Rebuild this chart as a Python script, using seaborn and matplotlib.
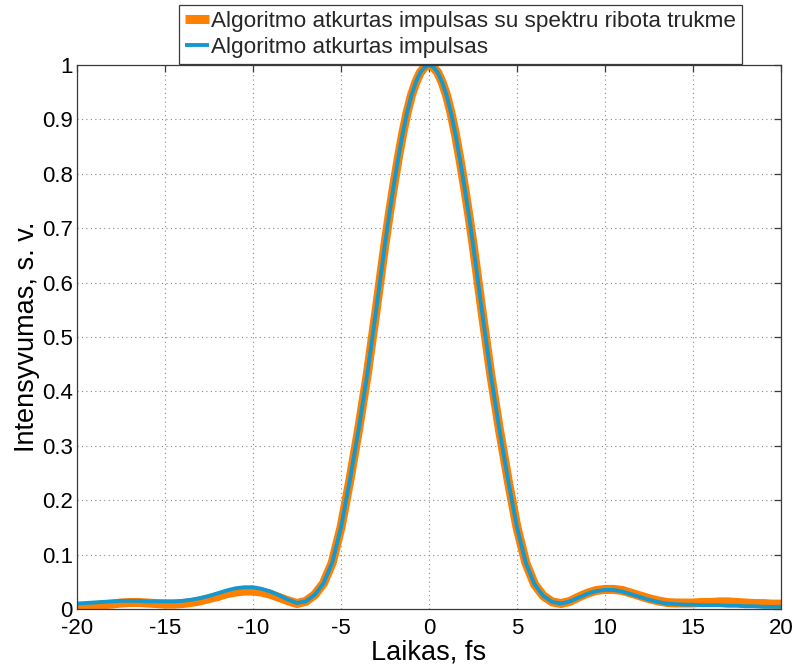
import numpy as np
import pandas as pd
import matplotlib
matplotlib.use("Agg")
import matplotlib.pyplot as plt
import seaborn as sns

# ---- data ----
time_fs = [-20.0, -19.5, -19.0, -18.5, -18.0, -17.5, -17.0, -16.5, -16.0, -15.5,
           -15.0, -14.5, -14.0, -13.5, -13.0, -12.5, -12.0, -11.5, -11.0, -10.5,
           -10.0, -9.5, -9.0, -8.5, -8.0, -7.5, -7.0, -6.5, -6.0, -5.5,
           -5.0, -4.5, -4.0, -3.5, -3.0, -2.75, -2.5, -2.25, -2.0, -1.75,
           -1.5, -1.25, -1.0, -0.75, -0.5, -0.25, 0.0, 0.25, 0.5, 0.75,
           1.0, 1.25, 1.5, 1.75, 2.0, 2.25, 2.5, 2.75, 3.0, 3.5,
           4.0, 4.5, 5.0, 5.5, 6.0, 6.5, 7.0, 7.5, 8.0, 8.5,
           9.0, 9.5, 10.0, 10.5, 11.0, 11.5, 12.0, 12.5, 13.0, 13.5,
           14.0, 14.5, 15.0, 15.5, 16.0, 16.5, 17.0, 17.5, 18.0, 18.5,
           19.0, 19.5, 20.0]

intensity_limited = [0.004, 0.005, 0.006, 0.008, 0.009, 0.011, 0.012, 0.012, 0.011, 0.010,
                     0.009, 0.009, 0.010, 0.012, 0.015, 0.019, 0.023, 0.028, 0.031, 0.033,
                     0.033, 0.031, 0.027, 0.021, 0.015, 0.010, 0.014, 0.026, 0.047, 0.085,
                     0.150, 0.236, 0.330, 0.433, 0.550, 0.611, 0.671, 0.727, 0.779, 0.828,
                     0.873, 0.912, 0.944, 0.968, 0.986, 0.996, 1.000, 0.996, 0.986, 0.968,
                     0.944, 0.912, 0.873, 0.828, 0.779, 0.727, 0.671, 0.611, 0.550, 0.433,
                     0.330, 0.236, 0.150, 0.085, 0.045, 0.024, 0.013, 0.010, 0.014, 0.022,
                     0.029, 0.034, 0.036, 0.036, 0.034, 0.029, 0.024, 0.019, 0.015, 0.012,
                     0.011, 0.011, 0.011, 0.012, 0.012, 0.013, 0.013, 0.012, 0.011, 0.010,
                     0.010, 0.009, 0.009]

intensity_recovered = [0.010, 0.011, 0.012, 0.013, 0.014, 0.015, 0.015, 0.015, 0.014, 0.014,
                       0.014, 0.014, 0.015, 0.017, 0.020, 0.024, 0.029, 0.034, 0.038, 0.040,
                       0.040, 0.037, 0.032, 0.025, 0.017, 0.011, 0.014, 0.026, 0.047, 0.085,
                       0.150, 0.236, 0.330, 0.433, 0.550, 0.611, 0.671, 0.727, 0.779, 0.828,
                       0.873, 0.912, 0.944, 0.968, 0.986, 0.996, 1.000, 0.996, 0.986, 0.968,
                       0.944, 0.912, 0.873, 0.828, 0.779, 0.727, 0.671, 0.611, 0.550, 0.433,
                       0.330, 0.236, 0.150, 0.085, 0.045, 0.024, 0.013, 0.010, 0.014, 0.021,
                       0.028, 0.033, 0.035, 0.035, 0.032, 0.027, 0.022, 0.017, 0.013, 0.010,
                       0.009, 0.008, 0.008, 0.007, 0.007, 0.007, 0.006, 0.006, 0.005, 0.005,
                       0.004, 0.004, 0.004]

series_labels = ["Algoritmo atkurtas impulsas su spektru ribota trukme",
                 "Algoritmo atkurtas impulsas"]
x_ticks = [-20, -15, -10, -5, 0, 5, 10, 15, 20]
x_tick_labels = ["-20", "-15", "-10", "-5", "0", "5", "10", "15", "20"]
y_ticks = [0, 0.1, 0.2, 0.3, 0.4, 0.5, 0.6, 0.7, 0.8, 0.9, 1.0]
y_tick_labels = ["0", "0.1", "0.2", "0.3", "0.4", "0.5", "0.6", "0.7", "0.8", "0.9", "1"]
x_label = "Laikas, fs"
y_label = "Intensyvumas, s. v."

# ---- style ----
sns.set_theme(style="white")
plt.rcParams["font.family"] = ["Liberation Sans", "DejaVu Sans"]
plt.rcParams["axes.unicode_minus"] = False

fig = plt.figure(figsize=(7.99, 6.67), dpi=100)
ax = fig.add_axes([77 / 799, 1 - 609 / 667, 704 / 799, 544 / 667])

df = pd.DataFrame({"t": time_fs, "limited": intensity_limited,
                   "recovered": intensity_recovered})

sns.lineplot(data=df, x="t", y="limited", ax=ax, color="#ff8000",
             linewidth=6.5, label=series_labels[0], solid_capstyle="butt",
             solid_joinstyle="round")
sns.lineplot(data=df, x="t", y="recovered", ax=ax, color="#1399cf",
             linewidth=2.8, label=series_labels[1], solid_capstyle="butt",
             solid_joinstyle="round")

ax.set_xlim(-20, 20)
ax.set_ylim(0, 1)
ax.set_xticks(x_ticks)
ax.set_xticklabels(x_tick_labels)
ax.set_yticks(y_ticks)
ax.set_yticklabels(y_tick_labels)

ax.grid(True, linestyle=(0, (1, 3)), color="#888888", linewidth=0.8)
ax.set_axisbelow(True)

for sp in ax.spines.values():
    sp.set_visible(True)
    sp.set_color("#3a3a3a")
    sp.set_linewidth(0.9)

ax.tick_params(axis="both", which="major", direction="in", length=5,
               width=0.9, color="#3a3a3a", top=True, right=True,
               labelsize=16, labelcolor="black")
ax.tick_params(axis="x", pad=6.5)
ax.tick_params(axis="y", pad=3)

ax.set_xlabel(x_label, fontsize=19.5, color="black", labelpad=0)
ax.set_ylabel(y_label, fontsize=19.5, color="black", labelpad=1)

handles = ax.get_legend_handles_labels()[0]
leg = fig.legend(handles=handles, labels=series_labels, loc="upper left",
                 bbox_to_anchor=(179 / 799, 1 - 5 / 667),
                 bbox_transform=fig.transFigure, borderaxespad=0,
                 fontsize=16.2, frameon=True, fancybox=False, framealpha=1,
                 edgecolor="#3a3a3a", handlelength=1.1, handletextpad=0.08,
                 borderpad=0.25, labelspacing=0.25)
leg.get_frame().set_linewidth(0.9)
ax.get_legend().remove()

fig.savefig("out.png", dpi=100)
